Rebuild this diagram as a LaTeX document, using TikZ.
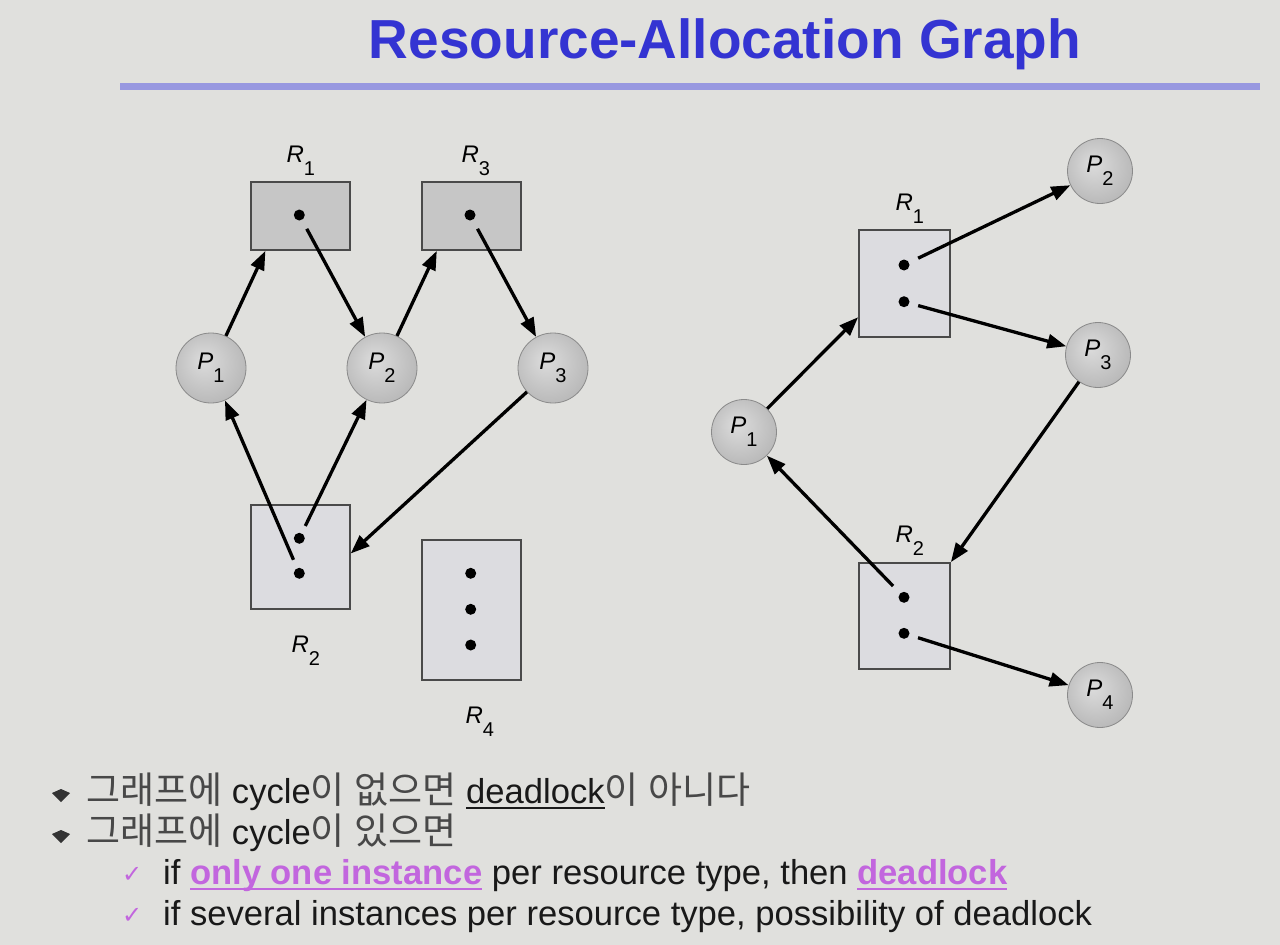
\documentclass[tikz,border=0pt]{standalone}
\usepackage{fontspec}
\setmainfont{Liberation Sans}
\newfontfamily\krfont{Noto Sans CJK KR}
\newfontfamily\symfont{DejaVu Sans}
\usetikzlibrary{arrows.meta}

\definecolor{bgcol}{HTML}{E0E0DD}
\definecolor{titleblue}{HTML}{3434D2}
\definecolor{rulecol}{HTML}{9898E0}
\definecolor{boxdark}{HTML}{C6C6C6}
\definecolor{boxlight}{HTML}{DCDCE0}
\definecolor{boxrim}{HTML}{4A4A4A}
\definecolor{ballin}{HTML}{DCDCDC}
\definecolor{ballout}{HTML}{A8A8A8}
\definecolor{ballrim}{HTML}{8A8A8A}
\definecolor{violet}{HTML}{C266DE}
\definecolor{krgray}{HTML}{484848}

\pgfdeclareradialshading{procball}{\pgfpoint{-6bp}{6bp}}{color(0bp)=(ballin); color(42bp)=(ballout); color(50bp)=(ballout)}

\newcommand{\lblsub}[2]{\textit{#1}\raisebox{-13pt}{\fontsize{20}{20}\selectfont #2}}
\newcommand{\kor}[1]{{\krfont\color{krgray}\fontsize{37}{40}\selectfont #1}}
\newcommand{\undl}[1]{\leavevmode\setbox0\hbox{#1}\rlap{\rule[-6pt]{\wd0}{1.8pt}}\box0}

\tikzset{
  proc/.style={circle, minimum size=70pt, inner sep=0pt, draw=ballrim, line width=0.8pt, shading=procball, font=\fontsize{24}{24}\selectfont},
  res/.style={rectangle, draw=boxrim, line width=1.8pt, inner sep=0pt, fill=boxlight},
  inst/.style={circle, fill=black, inner sep=0pt, minimum size=11pt},
  arr/.style={-{Triangle[length=19pt,width=14pt]}, line width=3.3pt},
  rlabel/.style={anchor=base west, font=\fontsize{24}{24}\selectfont},
  textline/.style={anchor=base west, inner sep=0pt, font=\fontsize{34.6}{40}\selectfont, text=black!90}
}

\begin{document}
\begin{tikzpicture}[x=1pt,y=-1pt]
\fill[bgcol] (0,0) rectangle (1280,945);

% title
\node[anchor=base, text=titleblue, font=\fontsize{55}{60}\selectfont\bfseries] (title) at (725,58) {Resource-Allocation Graph};
\fill[rulecol] (120,83) rectangle (1260,90);

% left graph
\node[res, fill=boxdark, minimum width=99pt, minimum height=68pt] (R1) at (300.3,216) {};
\node[res, fill=boxdark, minimum width=99pt, minimum height=68pt] (R3) at (471.7,216) {};
\node[res, minimum width=99pt, minimum height=104pt] (R2) at (300.3,557) {};
\node[res, minimum width=99pt, minimum height=140pt] (R4) at (471.5,610) {};
\node[inst] (r1a) at (299.3,215) {};
\node[inst] (r3a) at (470,215) {};
\node[inst] (r2a) at (299.3,538.3) {};
\node[inst] (r2b) at (299.3,573.3) {};
\node[inst] (r4a) at (470.7,573.3) {};
\node[inst] (r4b) at (470.7,609.3) {};
\node[inst] (r4c) at (470.7,645) {};
\node[rlabel] (R1lab) at (283,162) {\lblsub{R}{1}};
\node[rlabel] (R3lab) at (458,162) {\lblsub{R}{3}};
\node[rlabel] (R2lab) at (288,652) {\lblsub{R}{2}};
\node[rlabel] (R4lab) at (462,723) {\lblsub{R}{4}};

\node[proc] (P1) at (211,368) {\lblsub{P}{1}};
\node[proc] (P2) at (382,368) {\lblsub{P}{2}};
\node[proc] (P3) at (553,368) {\lblsub{P}{3}};

\draw[arr] (P1) -- (R1.225);
\draw[arr, shorten <=10pt] (r1a) -- (P2);
\draw[arr] (P2) -- (R3.225);
\draw[arr, shorten <=10pt] (r3a) -- (P3);
\draw[arr, shorten <=9pt] (r2b) -- (P1);
\draw[arr, shorten <=8pt] (r2a) -- (P2);
\draw[arr] (P3) -- (R2.4);

% right graph
\node[res, minimum width=91pt, minimum height=107pt] (S1) at (904.5,283.5) {};
\node[res, minimum width=91pt, minimum height=106pt] (S2) at (904.5,616) {};
\node[inst] (s1a) at (904,265) {};
\node[inst] (s1b) at (904,301.7) {};
\node[inst] (s2a) at (904,597.3) {};
\node[inst] (s2b) at (904,633.3) {};
\node[rlabel] (S1lab) at (892,210) {\lblsub{R}{1}};
\node[rlabel] (S2lab) at (892,542) {\lblsub{R}{2}};

\node[proc, minimum size=65pt] (Q1) at (744,432) {\lblsub{P}{1}};
\node[proc, minimum size=65pt] (Q2) at (1100,171) {\lblsub{P}{2}};
\node[proc, minimum size=65pt] (Q3) at (1098,355) {\lblsub{P}{3}};
\node[proc, minimum size=65pt] (Q4) at (1100,695) {\lblsub{P}{4}};

\draw[arr] (Q1) -- (S1.216);
\draw[arr, shorten <=10pt] (s1a) -- (Q2);
\draw[arr, shorten <=9pt] (s1b) -- (Q3);
\draw[arr] (Q3) -- (S2.north east);
\draw[arr, shorten <=10pt] (s2a) -- (Q1);
\draw[arr, shorten <=9pt] (s2b) -- (Q4);

% bullets
\fill[black!80] (52,793) -- (61,789) -- (70,793) -- (61,802) -- cycle;
\fill[black!80] (52,834) -- (61,830) -- (70,834) -- (61,843) -- cycle;
\node[textline] (line1) at (86,803) {\kor{그래프에} cycle\kor{이} \kor{없으면} \undl{deadlock}\kor{이} \kor{아니다}};
\node[textline] (line2) at (86,844) {\kor{그래프에} cycle\kor{이} \kor{있으면}};
\node[textline, text=violet] (tick1) at (122,882) {\symfont\fontsize{24}{30}\selectfont ✓};
\node[textline, text=violet] (tick2) at (122,923) {\symfont\fontsize{24}{30}\selectfont ✓};
\node[textline] (line3) at (163,884) {if {\color{violet}\bfseries\undl{only one instance}} per resource type, then {\color{violet}\bfseries\undl{deadlock}}};
\node[textline] (line4) at (163,925) {if several instances per resource type, possibility of deadlock};
\end{tikzpicture}
\end{document}
